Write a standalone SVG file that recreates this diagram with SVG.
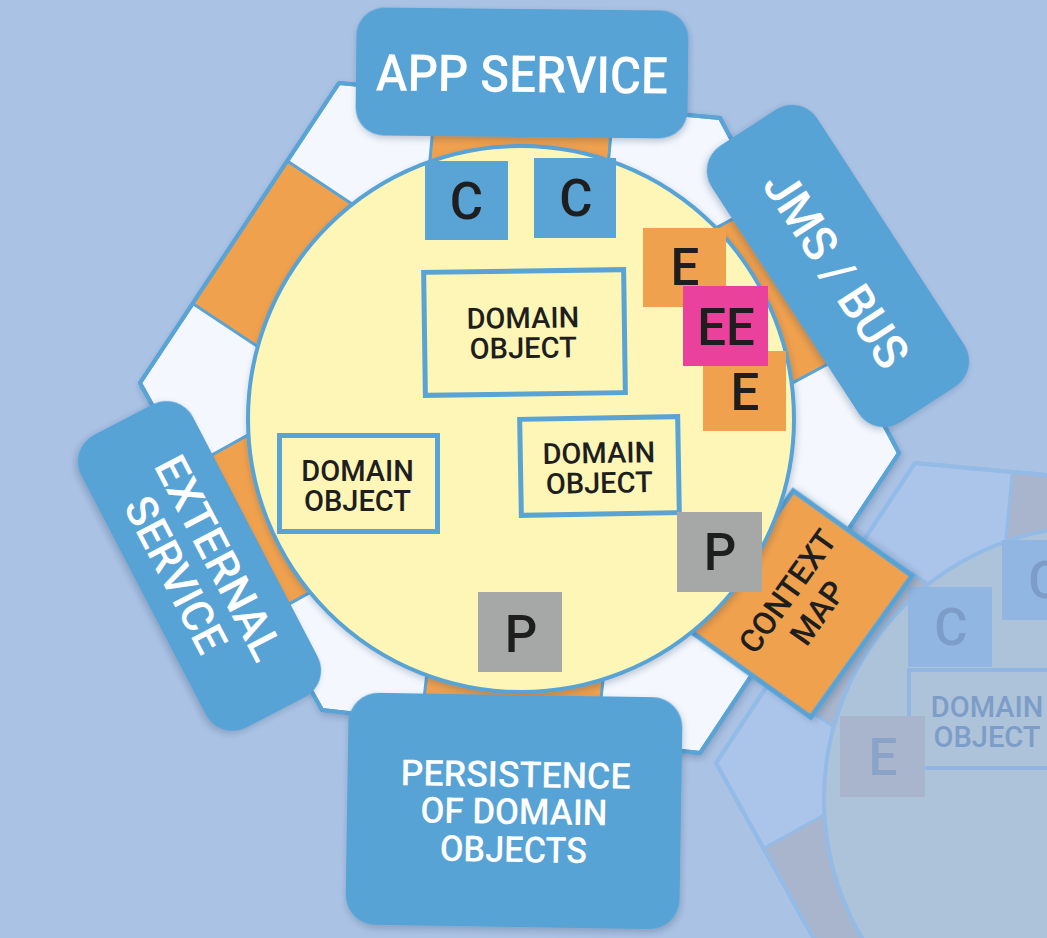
<svg xmlns="http://www.w3.org/2000/svg" width="1047" height="938" viewBox="0 0 1047 938">
<defs>
<filter id="sh" x="-20%" y="-20%" width="140%" height="140%"><feDropShadow dx="1" dy="3" stdDeviation="3" flood-color="#1a3050" flood-opacity="0.25"/></filter>
<polygon id="hex" points="339,83 720,118 899,453 700,753 322,710 140,383"/>
<g id="segs">
<polygon points="436.2,91.9 613.3,108.2 599.6,257.6 422.5,241.3"/>
<polygon points="287.3,161 192.7,303.5 317.7,386.4 412.3,243.9"/>
<polygon points="187.6,468.5 269.2,615.1 400.3,542.1 318.7,395.5"/>
</g>
</defs>
<style>
text{font-family:Roboto,'Liberation Sans',Arial,sans-serif;font-weight:500;}
.lbl{fill:#ffffff;text-anchor:middle;}
.dk{fill:#1e1e1e;text-anchor:middle;}
.box{fill:#59a3d5;}
.seg{fill:#f0a14e;stroke:#59a3d5;stroke-width:3;stroke-linejoin:round;}
.tl{font-size:51px;}
.blue{fill:#59a3d5;}
.org{fill:#f0a14e;}
.pink{fill:#ea429c;}
.gray{fill:#a6a8a8;}
.dobj{fill:#fef6b6;stroke:#59a3d5;stroke-width:5;}
.dt{font-size:29px;}
.fseg{fill:#a8b5cc;stroke:#93bbe6;stroke-width:3;}
.ft{fill:#7d9dc8;text-anchor:middle;}
</style>
<rect width="1047" height="938" fill="#aac2e4"/>

<g id="faded-context">
<g transform="translate(576,380)">
<use href="#hex" fill="#abc4e9" stroke="#93bbe6" stroke-width="4"/>
<use href="#segs" class="fseg"/>
<use href="#hex" fill="none" stroke="#93bbe6" stroke-width="4"/>
<circle cx="521" cy="419" r="273" fill="#adc3da" stroke="#93bbe6" stroke-width="4"/>
</g>
<rect x="908" y="587" width="84" height="80" fill="#90b6e1"/>
<text x="951" y="645" class="ft" style="font-size:51px">C</text>
<rect x="1002" y="540" width="84" height="80" fill="#90b6e1"/>
<text x="1045" y="598" class="ft" style="font-size:51px">C</text>
<rect x="909" y="670" width="160" height="98" fill="#adc3da" stroke="#90b6e1" stroke-width="4"/>
<text x="987" y="717" class="ft dt" fill="#8aa5cc">DOMAIN</text>
<text x="987" y="747" class="ft dt">OBJECT</text>
<rect x="840" y="716" width="85" height="81" fill="#a8b5cc"/>
<text x="883" y="775" class="ft" style="font-size:51px;fill:#8aa3c9">E</text>
</g>

<g id="hexagon">
<use href="#hex" fill="#f4f8fe" stroke="#59a3d5" stroke-width="4" filter="url(#sh)"/>
<use href="#segs" class="seg"/>
<polygon class="seg" points="421.4,721.3 596.1,741.2 613.1,592.2 438.4,572.3"/>
<polygon class="seg" points="764.8,201.8 846.2,354.2 713.9,424.9 632.5,272.5"/>
<use href="#hex" fill="none" stroke="#59a3d5" stroke-width="4" stroke-linejoin="round"/>
</g>

<g id="connectors"></g>

<g id="context-map" transform="translate(802,604) rotate(-54.4)">
<rect x="-87" y="-73" width="174" height="146" fill="#f0a14e" stroke="#59a3d5" stroke-width="5" filter="url(#sh)"/>
<text x="2" y="-8" class="dk" font-size="32">CONTEXT</text>
<text x="2" y="29" class="dk" font-size="32">MAP</text>
</g>

<g id="domain-core">
<circle cx="521" cy="419" r="273" fill="#fef6b6" stroke="#59a3d5" stroke-width="4" filter="url(#sh)"/>
</g>

<g id="domain-object-1" transform="rotate(-0.8 524 332)">
<rect x="424.5" y="271" width="200" height="123" class="dobj"/>
<text x="523" y="328" class="dk dt">DOMAIN</text>
<text x="523" y="358" class="dk dt">OBJECT</text>
</g>
<g id="domain-object-2">
<rect x="279.5" y="435.5" width="158" height="96" class="dobj"/>
<text x="357.5" y="481" class="dk dt">DOMAIN</text>
<text x="357.5" y="511" class="dk dt">OBJECT</text>
</g>
<g id="domain-object-3" transform="rotate(-1 599 466)">
<rect x="520.5" y="418" width="158" height="96" class="dobj"/>
<text x="599" y="463" class="dk dt">DOMAIN</text>
<text x="599" y="493" class="dk dt">OBJECT</text>
</g>

<g id="command-1"><rect x="425" y="161" width="83" height="79" class="blue"/><text x="466.5" y="219" class="dk tl">C</text></g>
<g id="command-2"><rect x="534" y="158" width="82" height="80" class="blue"/><text x="576" y="216" class="dk tl">C</text></g>
<g id="event-1"><rect x="643" y="228" width="83" height="79" class="org"/><text x="685" y="285" class="dk tl">E</text></g>
<g id="event-2"><rect x="703" y="351" width="83" height="80" class="org"/><text x="745" y="410" class="dk tl">E</text></g>
<g id="external-event"><rect x="683" y="286" width="85" height="80" class="pink"/><text x="726" y="345" class="dk tl">EE</text></g>
<g id="persistence-1"><rect x="677" y="512" width="85" height="80" class="gray"/><text x="720" y="570" class="dk tl">P</text></g>
<g id="persistence-2"><rect x="478" y="592" width="84" height="80" class="gray"/><text x="521" y="652" class="dk tl">P</text></g>

<g id="app-service" transform="rotate(0.6 522 73)">
<rect x="356" y="9" width="332" height="128" rx="28" class="box" filter="url(#sh)"/>
<text x="522" y="92" class="lbl" font-size="51" textLength="292" lengthAdjust="spacingAndGlyphs">APP SERVICE</text>
</g>

<g id="jms-bus" transform="translate(838,266) rotate(57)">
<rect x="-165" y="-63" width="330" height="126" rx="30" class="box" filter="url(#sh)"/>
<text x="2" y="20" class="lbl" font-size="48" textLength="224" lengthAdjust="spacingAndGlyphs">JMS / BUS</text>
</g>

<g id="external-service" transform="translate(199.5,566) rotate(62.5)">
<rect x="-165" y="-63" width="330" height="126" rx="30" class="box" filter="url(#sh)"/>
<text x="1.5" y="-5.5" class="lbl" font-size="44" textLength="224" lengthAdjust="spacingAndGlyphs">EXTERNAL</text>
<text x="-3.5" y="40.5" class="lbl" font-size="44" textLength="170" lengthAdjust="spacingAndGlyphs">SERVICE</text>
</g>

<g id="persistence" transform="rotate(0.9 514 811)">
<rect x="347" y="695" width="334" height="232" rx="30" class="box" filter="url(#sh)"/>
<text x="515" y="787" class="lbl" font-size="36" textLength="230" lengthAdjust="spacingAndGlyphs">PERSISTENCE</text>
<text x="514" y="824" class="lbl" font-size="36" textLength="187" lengthAdjust="spacingAndGlyphs">OF DOMAIN</text>
<text x="514" y="862" class="lbl" font-size="36" textLength="147" lengthAdjust="spacingAndGlyphs">OBJECTS</text>
</g>
</svg>
